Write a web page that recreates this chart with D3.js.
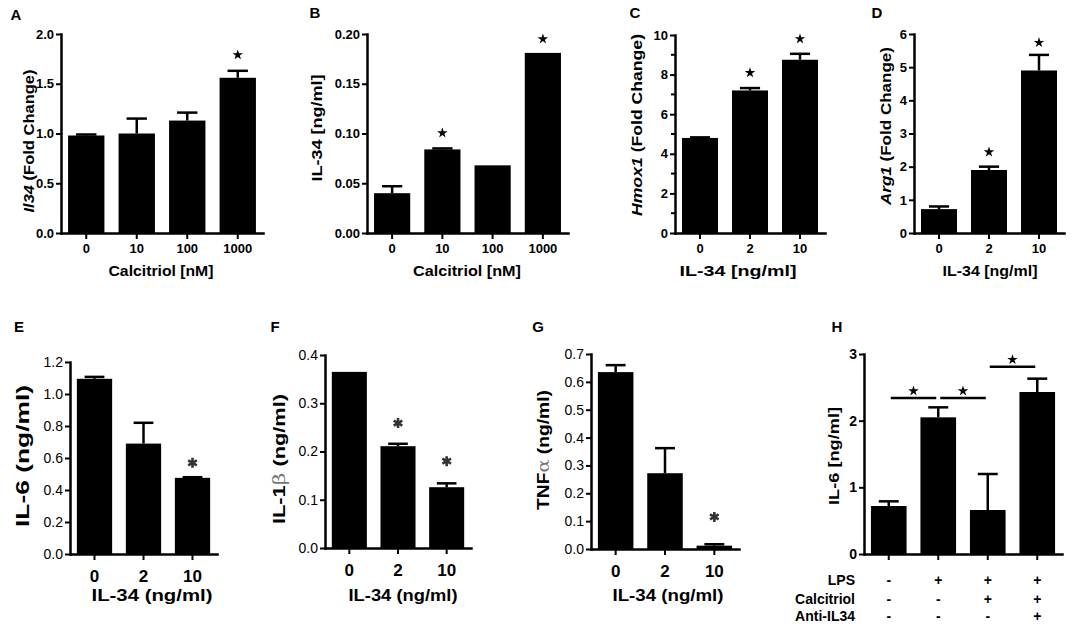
<!DOCTYPE html>
<html>
<head>
<meta charset="utf-8" />
<script src="https://d3js.org/d3.v7.min.js"></script>
<style>
  body { margin: 0; background: #fff; }
  svg { display: block; }
</style>
<title>IL-34 / calcitriol panels</title>
</head>
<body>
<div id="chart"></div>
<script>
  // categories
  var catsCalcitriol = ['0', '10', '100', '1000'];
  var catsIL34 = ['0', '2', '10'];
  var catsH = ['g1', 'g2', 'g3', 'g4'];

  // A: Il34 fold change vs calcitriol
  var meanA = [0.98, 1.0, 1.13, 1.56];
  var errA = [0.01, 0.15, 0.08, 0.07];
  var starA = [null, null, null, 1.79];

  // B: IL-34 protein vs calcitriol
  var meanB = [0.04, 0.084, 0.068, 0.181];
  var errB = [0.007, 0.001, 0, 0];
  var starB = [null, 0.1005, null, 0.195];

  // C: Hmox1
  var meanC = [4.8, 7.2, 8.75];
  var errC = [0.03, 0.12, 0.3];
  var starC = [null, 8.09, 9.8];

  // D: Arg1
  var meanD = [0.72, 1.9, 4.9];
  var errD = [0.08, 0.1, 0.47];
  var starD = [null, 2.44, 5.74];

  // E: IL-6
  var meanE = [1.095, 0.69, 0.476];
  var errE = [0.012, 0.13, 0.004];
  var starE = [null, null, 0.57];

  // F: IL-1b
  var meanF = [0.365, 0.211, 0.126];
  var errF = [0, 0.005, 0.008];
  var starF = [null, 0.259, 0.18];

  // G: TNFa
  var meanG = [0.635, 0.272, 0.012];
  var errG = [0.025, 0.09, 0.005];
  var starG = [null, null, 0.115];

  // H: IL-6 with LPS / calcitriol / anti-IL34
  var meanH = [0.72, 2.05, 0.66, 2.43];
  var errH = [0.07, 0.15, 0.54, 0.2];
  var starH = [null, null, null, null];
  var sigH = [[0, 1, 2.34], [1, 2, 2.34], [2, 3, 2.81]];
  var rowsH = ['LPS', 'Calcitriol', 'Anti-IL34'];
  var signsH = [['-', '+', '+', '+'], ['-', '-', '+', '+'], ['-', '-', '-', '+']];

  // tick values
  var ticksA = [0, 0.5, 1, 1.5, 2];
  var ticksB = [0, 0.05, 0.1, 0.15, 0.2];
  var ticksC = [0, 2, 4, 6, 8, 10];
  var minorC = [1, 3, 5, 7, 9];
  var ticksD = [0, 1, 2, 3, 4, 5, 6];
  var ticksE = [0, 0.2, 0.4, 0.6, 0.8, 1.0, 1.2];
  var ticksF = [0, 0.1, 0.2, 0.3, 0.4];
  var ticksG = [0, 0.1, 0.2, 0.3, 0.4, 0.5, 0.6, 0.7];
  var ticksH = [0, 1, 2, 3];

  var FONT = "'Liberation Sans', Arial, sans-serif";

  // layout of each panel (pixels)
  var panels = [
    { letter: 'A', lx: 16, ly: 20, cats: catsCalcitriol, mean: meanA, err: errA, star: starA,
      ticks: ticksA, fmt: '.1f', x0: 61, x1: 263, yTop: 34, yBot: 233, style: 'top',
      ylab: [['Il34', 'i'], [' (Fold Change)']], ylx: 29, yly: 141, ylLen: 143,
      xlab: 'Calcitriol [nM]', xlx: 161, xly: 276, xlLen: 105 },
    { letter: 'B', lx: 315, ly: 18, cats: catsCalcitriol, mean: meanB, err: errB, star: starB,
      ticks: ticksB, fmt: '.2f', x0: 367, x1: 568, yTop: 34, yBot: 233, style: 'top',
      ylab: [['IL-34 [ng/ml]']], ylx: 317, yly: 128, ylLen: 107,
      xlab: 'Calcitriol [nM]', xlx: 467, xly: 276, xlLen: 108 },
    { letter: 'C', lx: 635, ly: 18, cats: catsIL34, mean: meanC, err: errC, star: starC,
      ticks: ticksC, minor: minorC, fmt: 'd', x0: 675, x1: 825, yTop: 35, yBot: 233, style: 'top',
      ylab: [['Hmox1', 'i'], [' (Fold Change)']], ylx: 637, yly: 125, ylLen: 182,
      xlab: 'IL-34 [ng/ml]', xlx: 738, xly: 276, xlLen: 117 },
    { letter: 'D', lx: 877, ly: 18, cats: catsIL34, mean: meanD, err: errD, star: starD,
      ticks: ticksD, fmt: 'd', x0: 914, x1: 1064, yTop: 34, yBot: 233, style: 'top',
      ylab: [['Arg1', 'i'], [' (Fold Change)']], ylx: 886, yly: 126, ylLen: 158,
      xlab: 'IL-34 [ng/ml]', xlx: 990, xly: 276, xlLen: 95 },
    { letter: 'E', lx: 19, ly: 332, cats: catsIL34, mean: meanE, err: errE, star: starE,
      ticks: ticksE, fmt: '.1f', x0: 70, x1: 217, yTop: 362, yBot: 554, style: 'bottom',
      ylab: [['IL-6 (ng/ml)']], ylx: 23, yly: 456, ylLen: 142, ylSize: 18,
      xlab: 'IL-34 (ng/ml)', xlx: 152, xly: 601, xlLen: 121 },
    { letter: 'F', lx: 275, ly: 332, cats: catsIL34, mean: meanF, err: errF, star: starF,
      ticks: ticksF, fmt: '.1f', x0: 325, x1: 471, yTop: 355, yBot: 548, style: 'bottom',
      ylab: [['IL-1'], ['\u03b2', 'g'], [' (ng/ml)']], ylx: 279, yly: 459, ylLen: 130, ylSize: 17,
      xlab: 'IL-34 (ng/ml)', xlx: 403, xly: 601, xlLen: 109 },
    { letter: 'G', lx: 538, ly: 332, cats: catsIL34, mean: meanG, err: errG, star: starG,
      ticks: ticksG, fmt: '.1f', x0: 591, x1: 739, yTop: 354, yBot: 549, style: 'bottom',
      ylab: [['TNF'], ['\u03b1', 'g'], [' (ng/ml)']], ylx: 543, yly: 450, ylLen: 120, ylSize: 17,
      xlab: 'IL-34 (ng/ml)', xlx: 668, xly: 601, xlLen: 111 },
    { letter: 'H', lx: 837, ly: 332, cats: catsH, mean: meanH, err: errH, star: starH,
      ticks: ticksH, fmt: 'd', x0: 864, x1: 1062, yTop: 354, yBot: 554, style: 'H',
      ylab: [['IL-6 [ng/ml]']], ylx: 834, yly: 456, ylLen: 98,
      xlab: null }
  ];

  var svg = d3
    .select('#chart')
    .append('svg')
    .attr('width', 1084)
    .attr('height', 628)
    .style('font-family', FONT);

  panels.forEach(drawPanel);

  function drawPanel(p) {
    var g = svg.append('g');
    var x = d3
      .scaleBand()
      .domain(p.cats)
      .range([p.x0, p.x1])
      .paddingInner(0.28)
      .paddingOuter(0.14);
    var y = d3
      .scaleLinear()
      .domain([0, d3.max(p.ticks)])
      .range([p.yBot, p.yTop]);
    var bw = x.bandwidth();
    var cx = function (i) {
      return x(p.cats[i]) + bw / 2;
    };

    // bars
    g.selectAll('rect.bar')
      .data(p.mean)
      .join('rect')
      .attr('class', 'bar')
      .attr('x', (d, i) => x(p.cats[i]))
      .attr('width', bw)
      .attr('y', (d) => y(d))
      .attr('height', (d) => p.yBot - y(d))
      .attr('fill', '#000');

    // error bars (upper whisker only)
    p.mean.forEach(function (m, i) {
      if (!p.err[i]) return;
      var yt = y(m + p.err[i]);
      g.append('line')
        .attr('x1', cx(i)).attr('x2', cx(i))
        .attr('y1', y(m)).attr('y2', yt)
        .attr('stroke', '#000').attr('stroke-width', 2.5);
      g.append('line')
        .attr('x1', cx(i) - bw * 0.28).attr('x2', cx(i) + bw * 0.28)
        .attr('y1', yt).attr('y2', yt)
        .attr('stroke', '#000').attr('stroke-width', 2.5);
    });

    // significance marks
    p.star.forEach(function (s, i) {
      if (s == null) return;
      if (p.style === 'bottom') {
        g.append('path')
          .attr('d', d3.symbol(d3.symbolAsterisk, 70)())
          .attr('transform', 'translate(' + cx(i) + ',' + y(s) + ')')
          .attr('fill', 'none')
          .attr('stroke', '#333')
          .attr('stroke-width', 2.6);
      } else {
        g.append('path')
          .attr('d', d3.symbol(d3.symbolStar, 34)())
          .attr('transform', 'translate(' + cx(i) + ',' + y(s) + ')')
          .attr('fill', '#000');
      }
    });

    // y axis
    var yAxis = g
      .append('g')
      .attr('transform', 'translate(' + p.x0 + ',0)')
      .call(
        d3.axisLeft(y)
          .tickValues(p.ticks)
          .tickFormat(d3.format(p.fmt))
          .tickSize(5)
          .tickSizeOuter(0)
          .tickPadding(2)
      );
    yAxis.attr('font-family', FONT);
    yAxis.select('.domain').attr('stroke-width', 2.5).attr('stroke-linecap', 'square');
    yAxis.selectAll('.tick line').attr('stroke-width', 2);
    yAxis
      .selectAll('.tick text')
      .attr('fill', '#000')
      .attr('font-size', p.style === 'top' ? 13 : 14)
      .attr('font-weight', p.style === 'bottom' ? 'normal' : 'bold');

    if (p.minor) {
      yAxis.selectAll('line.minor')
        .data(p.minor)
        .join('line')
        .attr('class', 'minor')
        .attr('x1', -4).attr('x2', 0)
        .attr('y1', (d) => y(d)).attr('y2', (d) => y(d))
        .attr('stroke', '#000').attr('stroke-width', 2);
    }

    // x axis
    var xAxis = g
      .append('g')
      .attr('transform', 'translate(0,' + p.yBot + ')')
      .call(
        d3.axisBottom(x)
          .tickSize(6)
          .tickSizeOuter(0)
          .tickFormat(p.style === 'H' ? () => '' : (d) => d)
      );
    xAxis.attr('font-family', FONT);
    xAxis.select('.domain').attr('stroke-width', 2.5).attr('stroke-linecap', 'square');
    xAxis.selectAll('.tick line').attr('stroke-width', 2);
    xAxis
      .selectAll('.tick text')
      .attr('fill', '#000')
      .attr('dy', null)
      .attr('y', p.style === 'bottom' ? 28 : 20)
      .attr('font-size', p.style === 'bottom' ? 17 : 13)
      .attr('font-weight', 'bold');

    // y label
    var yl = g
      .append('text')
      .attr('transform', 'translate(' + p.ylx + ',' + p.yly + ') rotate(-90)')
      .attr('text-anchor', 'middle')
      .attr('dy', '0.35em')
      .attr('font-size', p.ylSize || 15)
      .attr('font-weight', 'bold')
      .attr('textLength', p.ylLen)
      .attr('lengthAdjust', 'spacingAndGlyphs');
    p.ylab.forEach(function (seg) {
      var t = yl.append('tspan').text(seg[0]);
      if (seg[1] === 'i') t.attr('font-style', 'italic');
      if (seg[1] === 'g')
        t.attr('font-family', "'DejaVu Serif', serif")
          .attr('font-weight', 'normal')
          .attr('fill', '#777');
    });

    // x label
    if (p.xlab) {
      g.append('text')
        .attr('x', p.xlx)
        .attr('y', p.xly)
        .attr('text-anchor', 'middle')
        .attr('font-size', p.style === 'bottom' ? 17 : 14)
        .attr('font-weight', 'bold')
        .attr('textLength', p.xlLen)
        .attr('lengthAdjust', 'spacingAndGlyphs')
        .text(p.xlab);
    }

    // panel letter
    g.append('text')
      .attr('x', p.lx)
      .attr('y', p.ly)
      .attr('text-anchor', 'middle')
      .attr('font-size', 15)
      .attr('font-weight', 'bold')
      .text(p.letter);

    if (p.style === 'H') {
      // comparison brackets
      sigH.forEach(function (s) {
        var yy = y(s[2]);
        g.append('line')
          .attr('x1', cx(s[0]) + 2).attr('x2', cx(s[1]) - 2)
          .attr('y1', yy).attr('y2', yy)
          .attr('stroke', '#000').attr('stroke-width', 2.5);
        g.append('path')
          .attr('d', d3.symbol(d3.symbolStar, 34)())
          .attr('transform', 'translate(' + (cx(s[0]) + cx(s[1])) / 2 + ',' + (yy - 7) + ')')
          .attr('fill', '#000');
      });

      // treatment table
      var rowY = [585, 604, 621];
      rowsH.forEach(function (r, k) {
        g.append('text')
          .attr('x', 855)
          .attr('y', rowY[k])
          .attr('text-anchor', 'end')
          .attr('font-size', 14)
          .attr('font-weight', 'bold')
          .text(r);
        signsH[k].forEach(function (sg, i) {
          g.append('text')
            .attr('x', cx(i))
            .attr('y', rowY[k])
            .attr('text-anchor', 'middle')
            .attr('font-size', 14)
            .attr('font-weight', 'bold')
            .text(sg);
        });
      });
    }
  }
</script>
</body>
</html>
